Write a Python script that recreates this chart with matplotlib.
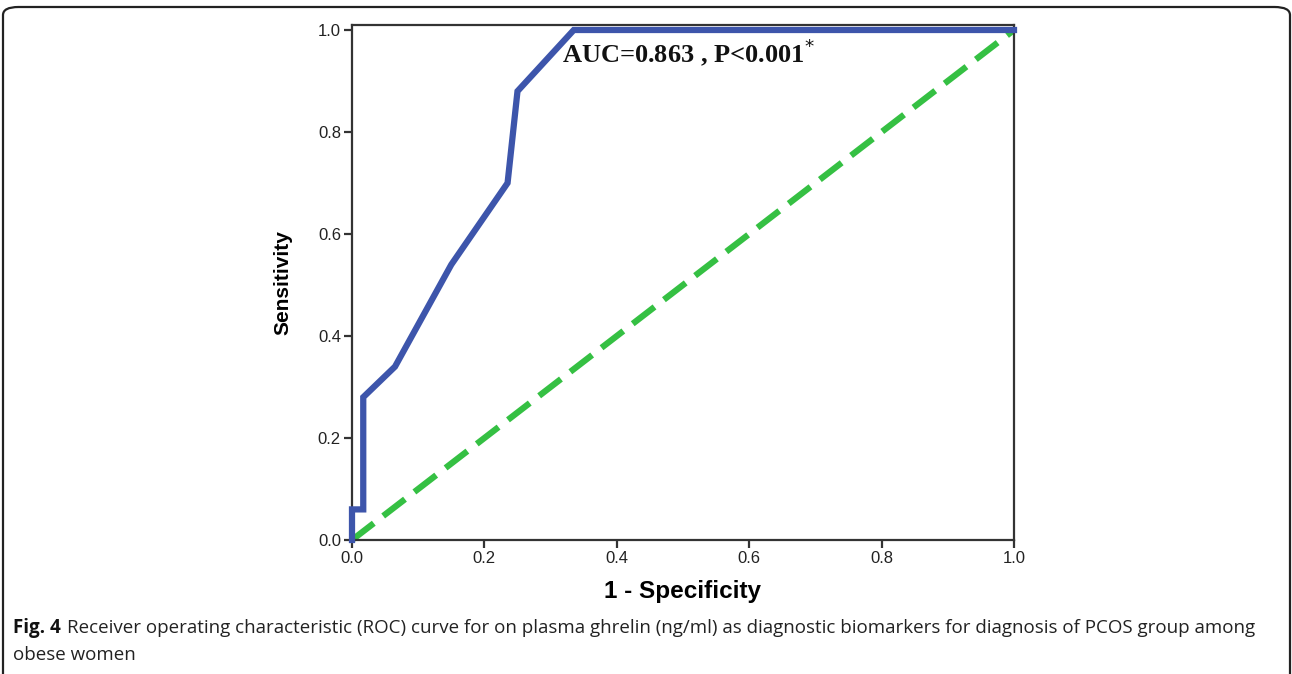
import matplotlib.pyplot as plt
from matplotlib.patches import FancyBboxPatch

# ROC curve
fpr = [0.0, 0.0, 0.017, 0.017, 0.065, 0.15, 0.235, 0.25, 0.335, 1.0]
tpr = [0.0, 0.06, 0.06, 0.28, 0.34, 0.54, 0.70, 0.88, 1.0, 1.0]
ref_x = [0.0, 1.0]
ref_y = [0.0, 1.0]
ticks = [0.0, 0.2, 0.4, 0.6, 0.8, 1.0]
tick_labels = ['0.0', '0.2', '0.4', '0.6', '0.8', '1.0']

W, H = 1292, 674
fig = plt.figure(figsize=(W / 100, H / 100), dpi=100)

# rounded frame around figure + caption
frame = FancyBboxPatch((3 / W, -20 / H), (1287 / W), (H + 13) / H,
                       boxstyle="round,pad=0,rounding_size=0.012",
                       transform=fig.transFigure, fill=False,
                       edgecolor='#222222', linewidth=1.6)
fig.patches.append(frame)

ax = fig.add_axes([352 / W, 134 / H, 662 / W, 515 / H])
ax.plot(ref_x, ref_y, color='#35c043', linewidth=4.5, linestyle=(0, (4.4, 1.9)),
        zorder=2, clip_on=False)
ax.plot(fpr, tpr, color='#3d55ab', linewidth=4.5, zorder=3, clip_on=False,
        solid_joinstyle='miter')

ax.set_xlim(0, 1)
ax.set_ylim(0, 1.0098)
ax.set_xticks(ticks)
ax.set_xticklabels(tick_labels)
ax.set_yticks(ticks)
ax.set_yticklabels(tick_labels)
for s in ax.spines.values():
    s.set_linewidth(1.6)
    s.set_color('#333333')
ax.tick_params(direction='out', length=6, width=1.6, color='#333333',
               labelsize=12, labelcolor='#222222', pad=2)
for lbl in ax.get_xticklabels() + ax.get_yticklabels():
    lbl.set_family('Liberation Sans')

ax.set_xlabel('1 - Specificity', fontsize=17.5, fontweight='bold',
              family='Liberation Sans', labelpad=10)
ax.set_ylabel('Sensitivity', fontsize=15, fontweight='bold',
              family='Liberation Sans', labelpad=18)

ax.text(0.317, 0.957, r'AUC=0.863 , P<0.001$^{*}$', fontsize=19, fontweight='bold',
        family='Liberation Serif', ha='left', va='center', color='#111111')

# caption
cap_y = 1 - 628 / H
t1 = fig.text(13 / W, cap_y, 'Fig. 4', fontsize=13.5, family='Open Sans',
              fontweight='bold', va='center', ha='left', color='#111111')
r = fig.canvas.get_renderer()
bb = t1.get_window_extent(renderer=r)
fig.text((bb.x1 + 6) / W, cap_y,
         'Receiver operating characteristic (ROC) curve for on plasma ghrelin (ng/ml) '
         'as diagnostic biomarkers for diagnosis of PCOS group among',
         fontsize=13.5, family='Open Sans', va='center', ha='left', color='#222222')
fig.text(13 / W, 1 - 655 / H, 'obese women', fontsize=13.5, family='Open Sans',
         va='center', ha='left', color='#222222')

fig.savefig('out.png', dpi=100)
